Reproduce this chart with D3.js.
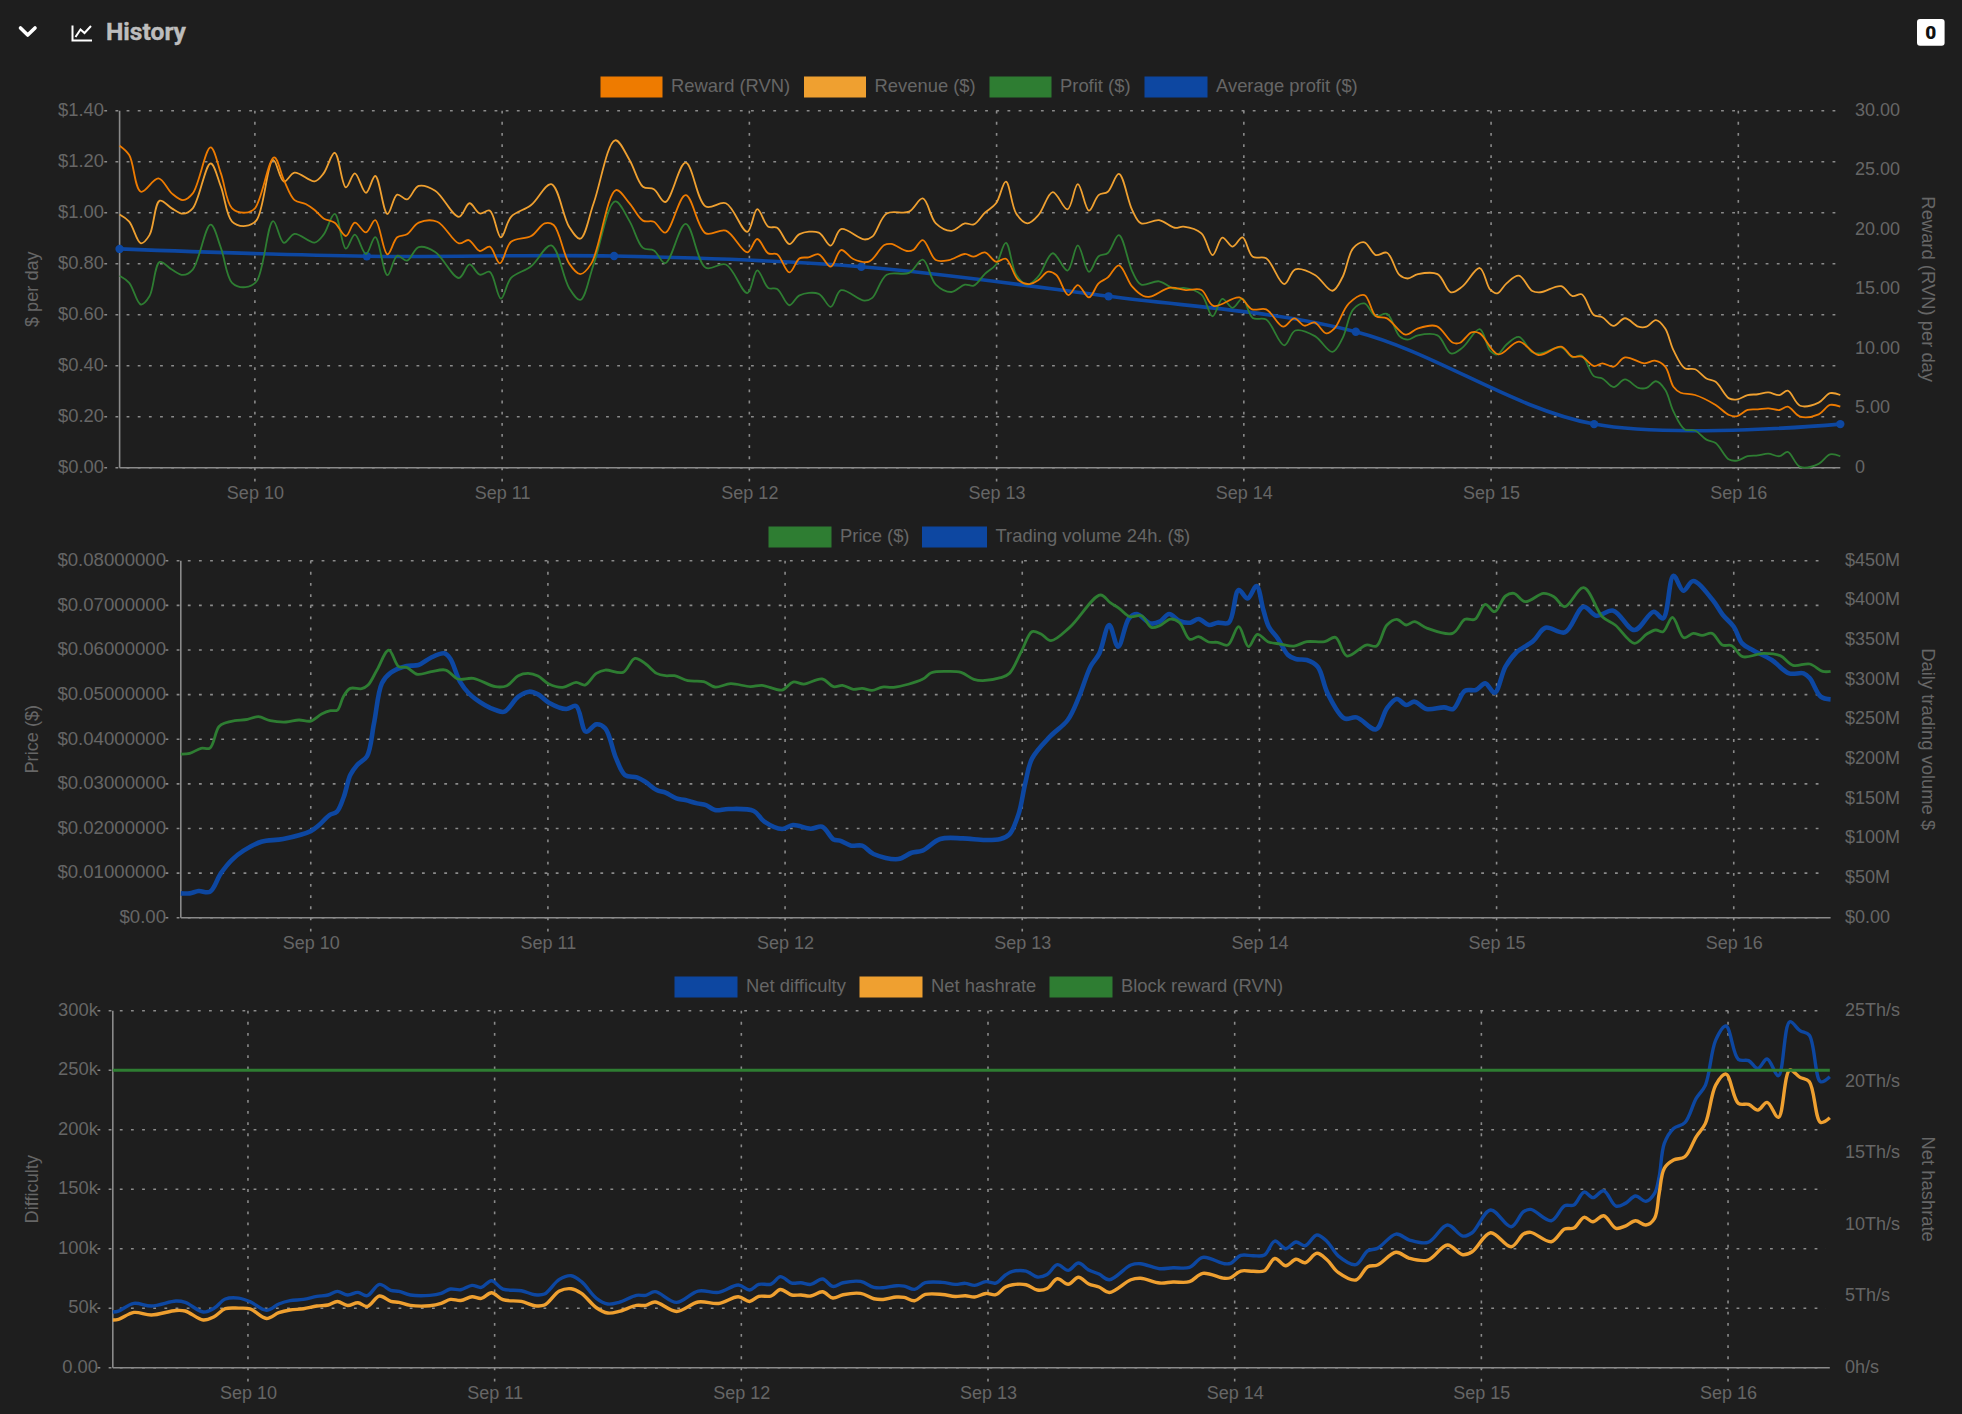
<!DOCTYPE html>
<html><head><meta charset="utf-8">
<script src="https://cdn.jsdelivr.net/npm/d3@7"></script>
<style>
html,body{margin:0;padding:0;background:#1e1e1e;overflow:hidden}
svg{display:block}
text{font-family:"Liberation Sans",Arial,sans-serif}
</style></head><body><svg id="c" width="1962" height="1414"></svg>
<script>
// hours are counted from Sep 10 00:00
const dayTicks=[10,11,12,13,14,15,16];

const timesRevenue=[-13.14,-12.2,-11.06,-10.24,-9.24,-8.07,-6.99,-6.03,-4.3,-3.3,-2.22,-.92,.16,1.77,2.81,3.85,5.8,6.66,7.75,8.83,9.7,10.78,11.69,12.86,13.82,14.77,15.9,17.5,19.8,20.84,21.84,22.8,23.88,24.87,26.82,28.77,30.5,31.59,32.89,34.97,36.36,37.66,38.74,39.83,41.82,43.77,45.72,47.8,48.76,49.84,50.7,51.88,52.87,54.74,55.9,56.9,59.16,59.94,61.33,63.5,64.84,66.1,67.61,68.91,69.78,70.86,71.95,72.9,73.9,74.98,76.06,77.45,78.88,79.88,80.96,81.9,82.8,83.87,85.17,86.03,87.77,89.28,90.15,91.88,92.97,93.92,94.92,95.87,96.87,98.17,99.91,101,102.9,104.6,105.6,106.6,107.7,108.8,109.9,111.1,111.9,112.9,114.8,116.1,117.2,118.9,119.9,120.6,121.5,122.7,124,124.8,126.8,127.9,128.8,129.96,130.8,131.9,133,134.3,135.1,136,136.9,137.7,138.8,139.8,140.9,141.8,143.1,143.9,144.9,145.9,146.9,148,148.8,150,151.8,152.9,153.9];
const revenue=[.993,.965,.88,.912,1.047,1.017,.996,1.017,1.193,1.102,.965,.948,.971,1.207,1.122,1.157,1.123,1.154,1.235,1.099,1.154,1.078,1.144,.995,1.071,1.052,1.105,1.086,.984,1.037,.997,1.008,.903,.984,1.03,1.112,.945,.898,1.037,1.284,1.207,1.102,1.092,1.042,1.196,1.024,1.037,.925,1.014,.945,.941,.877,.916,.922,.871,.936,.895,.906,.997,1.004,1.056,.958,.929,.958,.954,1,1.037,1.122,.997,.958,.991,1.081,1.013,1.112,1.008,1.069,1.082,1.152,1.01,.958,.971,.941,.945,.919,.834,.902,.867,.903,.827,.821,.72,.778,.756,.694,.749,.86,.884,.834,.843,.756,.742,.759,.759,.688,.71,.783,.699,.684,.723,.753,.693,.688,.712,.673,.68,.599,.59,.556,.586,.553,.553,.579,.546,.461,.39,.386,.35,.337,.272,.268,.285,.288,.295,.285,.302,.243,.255,.292,.285];
const profit=[.753,.725,.64,.672,.807,.777,.756,.777,.953,.862,.725,.708,.731,.967,.882,.917,.883,.914,.995,.859,.914,.838,.904,.755,.831,.812,.865,.846,.744,.797,.757,.768,.663,.744,.79,.872,.705,.658,.797,1.044,.967,.862,.852,.802,.956,.784,.797,.685,.774,.705,.701,.637,.676,.682,.631,.696,.655,.666,.757,.764,.816,.718,.689,.718,.714,.76,.797,.882,.757,.718,.751,.841,.773,.872,.768,.829,.842,.912,.77,.718,.731,.701,.705,.679,.594,.662,.627,.663,.587,.581,.48,.538,.516,.454,.509,.62,.644,.594,.603,.516,.502,.519,.519,.448,.47,.543,.459,.444,.483,.513,.453,.448,.472,.433,.44,.359,.35,.316,.346,.313,.313,.339,.306,.221,.15,.146,.11,.097,.032,.028,.045,.048,.055,.045,.062,.003,.015,.052,.045];

const timesReward=[-13.14,-12.2,-11.06,-9.37,-8.07,-6.99,-6.03,-4.3,-3.3,-2.22,-.92,0,1.86,2.81,3.85,4.93,5.8,6.66,7.75,8.83,9.7,10.78,11.69,12.86,13.82,14.77,15.9,17.7,19.8,20.75,21.84,22.8,23.79,24.87,26.82,28.13,29,30.5,31.59,32.67,35.05,36.36,37.66,38.74,39.83,41.82,43.77,45.72,47.8,48.76,49.84,50.7,51.88,52.87,53.74,54.74,55.9,56.9,58.08,59.6,61.1,61.76,63.28,63.9,64.84,66.1,67.39,68.91,69.78,70.86,71.95,72.9,74.1,75.2,76.06,77,77.8,78.97,79.88,80.96,81.9,82.8,83.87,85.17,86.25,86.9,88.85,90.37,91.88,93.05,95.57,96.8,98.17,99.82,100.9,101.9,102.85,104,104.8,106.2,107.7,108.8,109.9,111.7,112.9,114.7,116.3,117,118.1,118.9,120.7,122.7,124.6,126.8,127.9,128.8,130,130.8,131.9,133,134.9,135.9,136.9,137.7,138.4,139.8,141.8,143.1,143.9,144.9,145.9,146.9,148,148.8,150,151.8,152.9,153.9];
const reward=[27.06,26.27,23.19,24.31,23.05,22.49,23.05,26.92,24.73,21.79,21.43,21.79,26.08,24.17,22.49,22.16,21.65,20.95,20.59,19.47,20.59,19.78,20.81,17.93,19.36,19.61,20.59,20.67,18.85,19.13,18.21,18.57,17.17,18.99,19.47,20.53,20.39,17.17,16.27,17.17,23.33,22.21,20.76,20.67,19.75,22.91,19.69,19.92,18.1,19.22,18.01,17.93,16.41,17.59,17.68,17.93,16.89,18.29,17.54,17.31,18.71,18.8,18.21,18.29,19.13,17.45,17.45,17.96,17.73,18.1,17.31,17.56,15.77,15.43,15.77,16.47,16.19,14.51,15.35,14.31,15.49,15.99,17,15.21,14.43,14.37,15.13,14.93,14.93,13.59,14.31,13.31,13.31,11.85,12.55,11.93,12.21,11.29,11.71,13.81,14.51,12.75,12.55,11.18,11.71,11.9,10.5,10.5,11.37,11.29,9.52,10.59,9.47,10.17,9.33,9.33,8.54,8.77,8.49,9.27,8.77,8.99,8.49,6.81,6.3,6.11,5.27,4.43,4.34,4.85,4.9,4.99,4.85,5.13,4.29,4.48,5.27,5.13];

const timesAverage=[-13.14,10.86,34.86,58.86,82.86,106.86,130,153.9];
const averageProfit=[.858,.829,.83,.788,.672,.533,.171,.171];

const timesPrice=[-13.15,-12.25,-11.1,-10.2,-9.3,-8.6,-7.7,-6.4,-5.3,-4.1,-2.5,-1.2,0,1.1,2,2.7,3.3,4,5.15,5.8,6.7,7.9,8.9,9.7,10.8,12.2,13.65,14.9,16.45,18.7,19.85,21,22,23,24.1,25.5,26.85,27.75,28.9,29.8,31.6,32.8,33.9,35,35.9,36.8,38.15,39.77,40.9,42.5,44.5,45.65,47.7,48.8,49.9,51.75,52.9,53.8,54.9,55.8,56.8,57.85,58.98,61.9,62.8,64.4,65.8,67.1,68,69.8,70.7,71.9,73,73.9,74.9,76.8,79.9,80.9,81.8,82.9,84.07,85.06,85.9,87,87.9,88.95,89.85,90.85,91.75,92.8,93.9,94.9,95.8,96.85,98.1,99.5,100.8,102.6,103.7,104.86,106.8,107.85,108.9,109.9,110.85,111.7,113,115.55,116.8,117.8,118.85,119.8,120.9,121.75,122.9,124.75,125.8,126.9,128.8,130.7,132,133.95,135.2,136.1,136.85,137.8,138.95,139.9,140.8,141.8,142.85,143.8,144.9,147,148.7,150,151.7,153,153.8];
const price=[.03668,.03683,.03795,.03802,.0428,.0437,.04415,.04445,.04505,.04415,.04385,.0443,.04407,.04564,.04639,.04654,.04953,.05139,.05132,.05214,.0555,.05998,.05625,.0561,.05453,.05513,.0555,.05349,.05363,.05177,.05199,.05423,.05475,.05416,.05236,.05162,.05274,.05214,.05475,.0555,.05498,.05812,.05685,.05475,.05423,.05423,.05311,.05289,.0517,.05244,.05177,.05207,.05102,.05281,.05236,.05349,.05177,.05207,.05117,.05139,.05094,.05169,.05162,.05341,.0549,.0552,.05498,.05341,.05311,.05378,.05475,.0596,.0641,.06357,.06208,.06506,.07231,.07059,.06932,.06745,.06768,.06506,.06544,.06693,.06618,.06238,.06297,.06178,.0617,.0611,.06521,.06073,.0635,.06185,.06133,.06088,.06185,.06185,.06282,.05864,.0611,.06088,.06559,.06686,.06559,.06633,.06484,.06372,.06686,.06686,.07022,.06857,.07209,.07268,.07082,.07268,.07194,.06969,.07395,.06745,.06559,.06148,.06357,.06447,.06409,.06731,.06275,.06372,.06327,.06372,.06111,.06096,.05849,.05924,.05872,.05655,.05685,.0552,.0552];

const timesVolume=[-13.15,-12.25,-11.35,-10.2,-9.1,-8,-6.8,-5,-2.8,0,.85,1.9,2.65,3.35,4,4.7,5.7,6.4,7.2,8.1,9.7,10.9,12.15,13.5,14.1,15.1,16,17.6,18.7,19.6,21,22.1,23,24.1,25.85,26.85,27.85,28.9,29.8,30.9,31.8,33,33.85,35,35.9,37,37.9,39.1,40,40.9,42.26,44.84,45.9,47.7,48.8,50.6,51.75,52.9,53.55,54.7,55.8,56.95,59.45,60.8,61.9,63.7,65.99,68.25,69.8,70.7,71.65,72.3,73,74.8,76.6,77.75,78.9,79.8,80.8,81.7,82.8,83.6,84.97,85.9,86.87,87.9,89,89.85,90.9,91.75,92.9,93.9,94.8,95.7,96.4,96.95,97.85,98.9,99.66,100.8,101.9,102.9,104.6,105.84,107.8,108.9,109.9,110.85,111.7,112.9,114.7,115.6,116.8,117.9,118.85,119.8,120.9,121.97,123.7,124.95,126.9,128.8,130.1,131.8,133.95,135.9,136.85,137.9,138.9,139.9,141.86,142.9,144,144.85,145.9,147.85,149.6,151.06,151.7,152.8,153.8];
const volume=[30.7,30.7,33.6,32.8,55.9,72.7,84.5,95.8,99.2,109.2,116.8,129.4,133.6,152.5,179.8,192.4,203.8,245,295.4,308.8,317.2,318.5,327.7,333.2,326.9,297.5,282.8,268.1,261.8,259.7,278.6,284.9,281.5,271,263,266.8,234.5,243.7,238.7,200.8,179.8,176.9,171.4,160.9,157.6,150.4,148.3,144.1,142,135.7,137,134.5,121,111.8,116.8,112.2,114.7,98.7,97.1,90.8,90.8,80.3,73.9,81.9,84.5,99.2,100,97.9,99.2,105,131.5,169.3,200.8,228.2,249.2,278.6,316.4,333.2,368.9,341.6,377.3,382.8,371,373.1,382.8,374,371.9,376.5,368.9,371.9,371.9,413,402.5,418.1,387.8,366.8,352.1,331.1,326,324.8,316.4,282.8,251.2,252.5,237.4,263.9,275.6,268.1,272.3,263,265.1,263,286.1,287,295.4,283.6,316.4,334,348.7,365.5,359.7,392,380.7,387,362.6,385.7,377.3,431.1,412.2,424.4,400.4,381.5,366.8,345.8,337.4,324.8,308,308,301.7,278.6,275.2];

const timesNet=[-13.15,-12.6,-11.1,-9.4,-7,-6.1,-4.35,-3.3,-2.2,-.9,.2,1.8,3,4.1,5.4,6.7,7.8,8.7,9.7,10.7,11.6,12.8,13.9,14.7,15.8,17.7,18.8,19.7,20.7,21.8,22.7,23.7,24.8,26.6,27.9,28.85,30.3,31.45,32.45,33.9,35,36.1,37.8,38.7,39.6,41.7,43.8,45.8,47.7,48.8,49.7,50.9,51.8,52.9,53.8,54.75,55.9,56.9,57.9,59.6,60.9,61.8,63.1,63.85,64.85,65.9,67.55,68.8,69.8,70.7,71.8,72.75,73.7,74.4,75.7,76.8,77.75,78.75,79.8,80.8,81.8,82.8,83.8,85.9,86.85,88.7,90,91.6,92.9,95,95.6,96.6,97.8,98.9,99.9,100.96,101.96,102.85,104,105,106.1,107.8,108.95,109.9,111.7,113,114.8,116.7,118.2,119.1,120.9,122.9,124.1,124.8,126.8,128.1,129,130,130.85,131.9,133.1,134,135,136,136.85,137.3,137.8,138.7,139.8,140.9,141.8,142.8,143.8,145,146,146.9,147.8,148.9,150,151,151.9,153,153.9];
const netDifficulty=[46800,47600,54100,51800,56000,54900,46800,49900,57700,58500,55500,48200,53500,56300,57400,59900,61100,64100,61100,63300,60500,70000,65000,64100,61100,60800,62500,66100,65500,69200,67500,73100,66100,64700,61300,61900,74200,77300,72300,58300,53500,54900,60800,60800,63900,54900,64400,63300,69500,65300,70000,70300,76500,71100,71400,70000,74500,68300,71400,72500,67500,67200,68900,68600,65800,71400,71700,70000,70900,69200,72300,71100,77900,80900,81200,76200,78400,86600,81800,88000,82100,78700,73900,86300,87400,83200,84000,84300,92700,87400,87700,94400,94100,94700,106400,100000,105600,102500,111500,105900,93800,86600,98300,100300,112300,107300,105300,119900,110600,113400,132500,118500,131100,133000,123500,136100,136700,147600,142900,148700,135800,138100,144300,139800,146500,160500,188500,201100,205900,226300,237500,275300,287100,259100,258000,251500,259400,245400,290700,283200,279500,240300,244500];
const netHashrate=[3.34,3.38,3.87,3.69,4.01,3.97,3.34,3.57,4.13,4.17,4.12,3.45,3.85,4.04,4.13,4.32,4.39,4.64,4.36,4.55,4.29,5.02,4.64,4.57,4.36,4.34,4.5,4.78,4.71,4.97,4.85,5.25,4.76,4.64,4.34,4.39,5.37,5.53,5.2,4.2,3.83,3.94,4.36,4.36,4.6,3.94,4.6,4.5,4.97,4.64,4.99,5.02,5.48,5.09,5.09,5.02,5.32,4.88,5.11,5.2,4.83,4.78,4.95,4.92,4.69,5.13,5.13,4.99,5.04,4.95,5.2,5.11,5.65,5.81,5.81,5.44,5.55,6.23,5.84,6.33,5.86,5.65,5.27,6.16,6.26,5.93,6,6.02,6.61,6.26,6.3,6.77,6.75,6.79,7.65,7.14,7.59,7.35,8.01,7.54,6.65,6.14,7.07,7.19,8.08,7.66,7.54,8.59,7.91,8.12,9.45,8.47,9.36,9.48,8.82,9.71,9.78,10.53,10.22,10.64,9.76,9.92,10.29,9.99,10.46,12.21,13.96,14.54,14.77,16.17,17.11,19.79,20.56,18.51,18.44,18.04,18.58,17.53,20.84,20.33,20.03,17.18,17.5];
const timesBlock=[-13.15,153.9];
const blockReward=[2500,2500];

const ticksLeft1=[0,.2,.4,.6,.8,1,1.2,1.4];
const ticksRight1=[0,5,10,15,20,25,30];
const ticksLeft2=[0,.01,.02,.03,.04,.05,.06,.07,.08];
const ticksRight2=[0,50,100,150,200,250,300,350,400,450];
const ticksLeft3=[0,50000,100000,150000,200000,250000,300000];
const ticksRight3=[0,5,10,15,20,25];

const ORANGE="#ee7b00",AMBER="#efa030",GREEN="#2e7d32",BLUE="#0d47a1";
const TEXT="#666666",GRID="#8a8a8a",AXIS="#8a8a8a";
const FS=18;
const DASH="2.8 8.35";
const base=new Date(2022,8,10);
const at=h=>d3.timeMinute.offset(base,Math.round(h*60));
const svg=d3.select("#c");
const smooth=d3.curveCatmullRom.alpha(0.5);

function panel(cfg){
  const g=svg.append("g");
  const x=d3.scaleTime().domain([at(cfg.t0),at(cfg.t1)]).range([cfg.l,cfg.r]);
  const yL=d3.scaleLinear().domain(cfg.yLDomain).range([cfg.b,cfg.t]);
  const yR=d3.scaleLinear().domain(cfg.yRDomain).range([cfg.b,cfg.t]);
  // grid
  const grid=g.append("g").attr("stroke",GRID).attr("stroke-width",1.6).attr("stroke-dasharray",DASH).attr("fill","none");
  grid.selectAll("line.h").data(cfg.ticksL).join("line").attr("class","h")
    .attr("x1",cfg.l-15.3).attr("x2",cfg.r-4).attr("y1",yL).attr("y2",yL);
  grid.selectAll("line.v").data(dayTicks).join("line").attr("class","v")
    .attr("x1",d=>x(new Date(2022,8,d))).attr("x2",d=>x(new Date(2022,8,d)))
    .attr("y1",cfg.t).attr("y2",cfg.b+15);
  // axis lines
  g.append("line").attr("x1",cfg.l).attr("x2",cfg.l).attr("y1",cfg.t).attr("y2",cfg.b).attr("stroke",AXIS).attr("stroke-width",1.6);
  g.append("line").attr("x1",cfg.l).attr("x2",cfg.r).attr("y1",cfg.b).attr("y2",cfg.b).attr("stroke",AXIS).attr("stroke-width",1.6);
  // axes (labels only, rules drawn above)
  const style=(s,fs)=>{s.select(".domain").remove();s.selectAll("line").remove();
    s.selectAll("text").attr("fill",TEXT).attr("font-size",fs).attr("font-family",'"Liberation Sans",Arial,sans-serif');};
  g.append("g").attr("transform",`translate(${cfg.labelL},0)`)
    .call(d3.axisLeft(yL).tickValues(cfg.ticksL).tickFormat(cfg.fmtL).tickSize(0).tickPadding(0)).call(style,cfg.fsL||18.4)
    .selectAll("text").attr("dy","0.26em");
  g.append("g").attr("transform",`translate(${cfg.labelR},0)`)
    .call(d3.axisRight(yR).tickValues(cfg.ticksR).tickFormat(cfg.fmtR).tickSize(0).tickPadding(0)).call(style,FS)
    .selectAll("text").attr("dy","0.24em");
  g.append("g").attr("transform",`translate(0,${cfg.b+19})`)
    .call(d3.axisBottom(x).tickValues(dayTicks.map(d=>new Date(2022,8,d))).tickFormat(d3.timeFormat("%b %d")).tickSize(0).tickPadding(0)).call(style,FS)
    .selectAll("text").attr("dy","0.71em");
  // axis titles
  const cy=(cfg.t+cfg.b)/2;
  g.append("text").attr("transform",`translate(38,${cy}) rotate(-90)`).attr("text-anchor","middle").attr("fill",TEXT).attr("font-size",18.2).text(cfg.titleL);
  g.append("text").attr("transform",`translate(1922,${cy}) rotate(90)`).attr("text-anchor","middle").attr("fill",TEXT).attr("font-size",18.4).text(cfg.titleR);
  // series
  cfg.series.forEach(s=>{
    const ys=s.axis==="R"?yR:(s.axis==="H"?d3.scaleLinear().domain(cfg.hDomain).range([cfg.b,cfg.t]):yL);
    const line=d3.line().x((d,i)=>x(at(s.times[i]))).y(d=>Math.min(ys(d),cfg.b)).curve(s.curve||smooth);
    g.append("path").attr("d",line(s.values)).attr("fill","none").attr("stroke",s.color).attr("stroke-width",s.w).attr("stroke-linejoin","round");
    if(s.dots) g.selectAll(null).data(s.values).join("circle").attr("cx",(d,i)=>x(at(s.times[i]))).attr("cy",d=>ys(d)).attr("r",4.2).attr("fill",s.color);
  });
  // legend
  cfg.legend.forEach(l=>{
    g.append("rect").attr("x",l.x).attr("y",cfg.legendY).attr("width",l.w).attr("height",20).attr("fill",l.color).attr("stroke",l.color).attr("stroke-width",1);
    g.append("text").attr("x",l.x+l.w+9).attr("y",cfg.legendY+15.2).attr("fill",TEXT).attr("font-size",18.4).text(l.name);
  });
}

panel({l:119.6,r:1840.3,t:110.7,b:467.7,t0:-13.14,t1:153.9,yLDomain:[0,1.4],yRDomain:[0,30],
  ticksL:ticksLeft1,ticksR:ticksRight1,fmtL:d=>"$"+d.toFixed(2),fmtR:d=>d===0?"0":d.toFixed(2),
  labelL:104,labelR:1855,titleL:"$ per day",titleR:"Reward (RVN) per day",legendY:77,
  legend:[{x:601,w:61,color:ORANGE,name:"Reward (RVN)"},{x:804.5,w:61,color:AMBER,name:"Revenue ($)"},{x:990,w:61,color:GREEN,name:"Profit ($)"},{x:1145,w:62,color:BLUE,name:"Average profit ($)"}],
  series:[
    {times:timesAverage,values:averageProfit,color:BLUE,w:3.6,dots:true},
    {times:timesRevenue,values:profit,color:GREEN,w:1.8},
    {times:timesRevenue,values:revenue,color:AMBER,w:1.8},
    {times:timesReward,values:reward,color:ORANGE,w:1.8,axis:"R"}
  ]});

panel({l:180.8,r:1830.6,t:560.7,b:917.7,t0:-13.15,t1:153.8,yLDomain:[0,.08],yRDomain:[0,450],fsL:18.6,
  ticksL:ticksLeft2,ticksR:ticksRight2,fmtL:d=>d===0?"$0.00":"$"+d.toFixed(8),fmtR:d=>d===0?"$0.00":"$"+d+"M",
  labelL:166,labelR:1845,titleL:"Price ($)",titleR:"Daily trading volume $",legendY:527,
  legend:[{x:769,w:62,color:GREEN,name:"Price ($)"},{x:922.5,w:64,color:BLUE,name:"Trading volume 24h. ($)"}],
  series:[
    {times:timesVolume,values:volume,color:BLUE,w:4.6,axis:"R"},
    {times:timesPrice,values:price,color:GREEN,w:2.8}
  ]});

panel({l:112.8,r:1829.8,t:1010.7,b:1367.7,t0:-13.15,t1:153.9,yLDomain:[0,300000],yRDomain:[0,25],hDomain:[0,3000],
  ticksL:ticksLeft3,ticksR:ticksRight3,fmtL:d=>d===0?"0.00":(d/1000)+"k",fmtR:d=>d===0?"0h/s":d+"Th/s",
  labelL:98,labelR:1845,titleL:"Difficulty",titleR:"Net hashrate",legendY:977,
  legend:[{x:675,w:62,color:BLUE,name:"Net difficulty"},{x:860,w:62,color:AMBER,name:"Net hashrate"},{x:1050,w:62,color:GREEN,name:"Block reward (RVN)"}],
  series:[
    {times:timesNet,values:netDifficulty,color:BLUE,w:3.4},
    {times:timesNet,values:netHashrate,color:AMBER,w:3.4,axis:"R"},
    {times:timesBlock,values:blockReward,color:GREEN,w:3,axis:"H",curve:d3.curveLinear}
  ]});

// header
svg.append("path").attr("d","M20.5 28 L27.7 35 L35 28").attr("fill","none").attr("stroke","#fff").attr("stroke-width",3.6).attr("stroke-linecap","round").attr("stroke-linejoin","round");
svg.append("path").attr("d","M72.5 25.5 V40.5 H92 M75.5 37 L80.5 29.5 L84.5 33 L91 26").attr("fill","none").attr("stroke","#fff").attr("stroke-width",2);
svg.append("text").attr("x",106).attr("y",40).attr("fill","#bdbdbd").attr("stroke","#bdbdbd").attr("stroke-width",.4).attr("font-size",24.6).attr("font-weight",700).style("font-family","Roboto").text("History");
svg.append("rect").attr("x",1917).attr("y",19).attr("width",27.6).attr("height",26.7).attr("rx",3).attr("fill","#fff");
svg.append("text").attr("x",1930.8).attr("y",39).attr("text-anchor","middle").attr("fill","#111").attr("font-size",19).attr("font-weight",900).style("font-family","Roboto").text("0");
</script></body></html>
